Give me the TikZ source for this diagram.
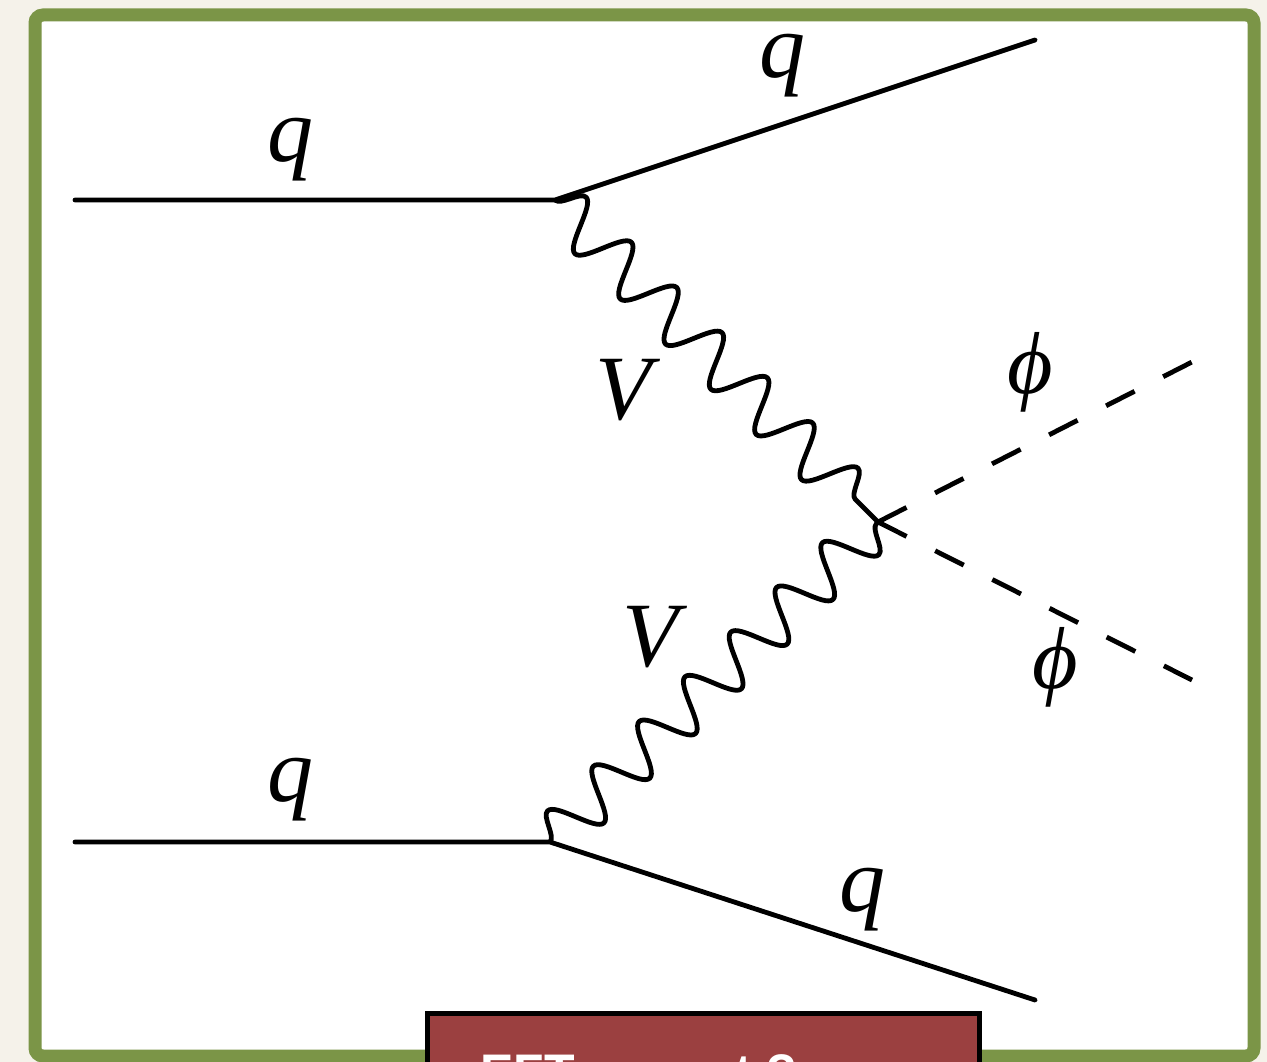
\RequirePackage{fix-cm}
\documentclass[tikz,border=0pt]{standalone}
\usepackage{fontspec}
\newfontfamily\ser{Liberation Serif}
\newfontfamily\sansb{Liberation Sans}
\usetikzlibrary{decorations.pathmorphing}
\definecolor{frameG}{HTML}{7B9547}
\definecolor{bgC}{HTML}{F5F2EA}
\definecolor{boxR}{HTML}{9B4040}
\tikzset{
 fermion/.style={line width=4.8pt, line cap=round},
 boson/.style={line width=4.8pt, line join=round, decorate, decoration={snake, amplitude=24pt, segment length=64pt}},
 scalar/.style={line width=4.8pt, dash pattern=on 32pt off 32pt},
 lab/.style={inner sep=0pt, font=\fontsize{92}{92}\selectfont\ser\itshape},
 philab/.style={inner sep=0pt, font=\fontsize{88}{88}\selectfont\ser\itshape},
}
\begin{document}
\begin{tikzpicture}[x=1pt,y=-1pt]
\useasboundingbox (0,0) rectangle (1267,1062);
\clip (0,0) rectangle (1267,1062);
\fill[bgC] (0,0) rectangle (1267,1062);
\draw[frameG, fill=white, line width=13pt, rounded corners=8pt] (35,15) rectangle (1254,1056);
% vertices
\coordinate (in1) at (75,200);
\coordinate (v1) at (555,200);
\coordinate (out1) at (1035,40);
\coordinate (in2) at (75,842);
\coordinate (v2) at (550,842);
\coordinate (out2) at (1035,1000);
\coordinate (c) at (878,522);
\coordinate (p1) at (1192,362);
\coordinate (p2) at (1192,680);
% lines
\draw[fermion] (in1) -- (v1) -- (out1);
\draw[fermion] (in2) -- (v2) -- (out2);
\draw[boson] (v1) -- (c);
\draw[boson] (v2) -- (c);
\draw[scalar] (c) -- (p1);
\draw[scalar] (c) -- (p2);
% labels
\node[lab] (lq1) at (290,150) {q};
\node[lab] (lq2) at (782,66) {q};
\node[lab] (lq3) at (290,790) {q};
\node[lab] (lq4) at (862,900) {q};
\node[lab] (lv1) at (624,390) {V};
\node[lab] (lv2) at (651,637) {V};
\node[philab] (lp1) at (1030,372) {ϕ};
\node[philab] (lp2) at (1055,667) {ϕ};
% box
\draw[line width=5pt, fill=boxR] (427,1013) rectangle (979,1140);
\node[anchor=base west, inner sep=0pt, text=white, font=\fontsize{50}{50}\selectfont\sansb\bfseries] (eft) at (480,1089) {EFT cannot ?};
\end{tikzpicture}
\end{document}
